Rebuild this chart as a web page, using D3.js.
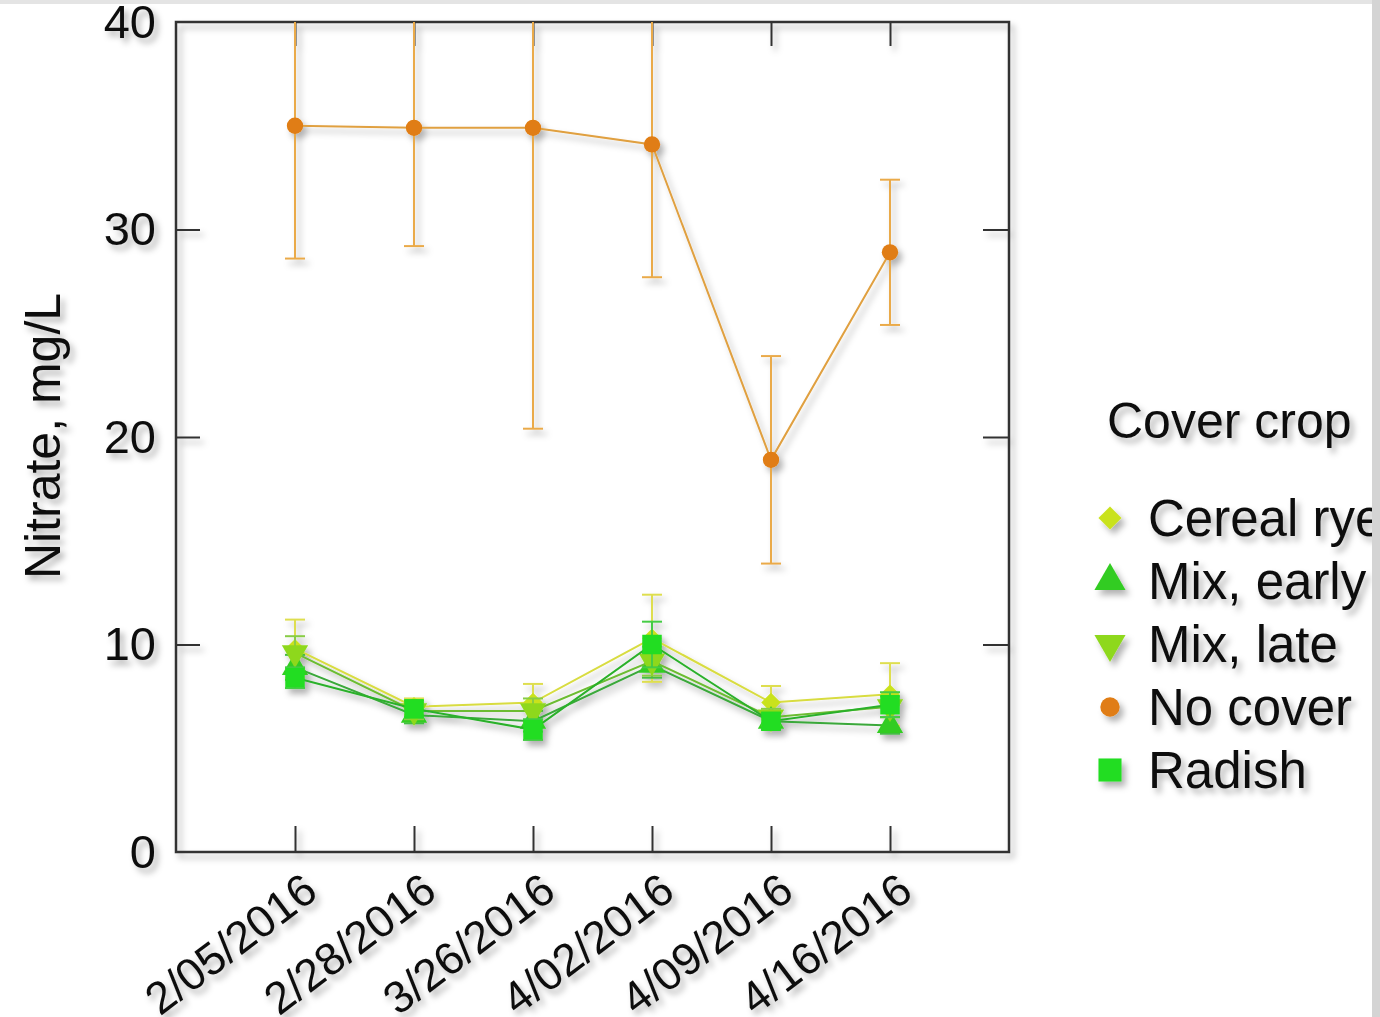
<!DOCTYPE html>
<html>
<head>
<meta charset="utf-8">
<script src="https://cdn.jsdelivr.net/npm/d3@7"></script>
<style>
  body { margin: 0; background: #fff; }
  svg { display: block; font-family: "Liberation Sans", Arial, sans-serif; }
</style>
</head>
<body>
<svg width="1380" height="1017"></svg>
<script>
// sampling dates (x categories)
var dates = ["2/05/2016", "2/28/2016", "3/26/2016", "4/02/2016", "4/09/2016", "4/16/2016"];
var yTicks = [0, 10, 20, 30, 40];

// means and standard errors, mg/L
var cerealRye = [9.8, 7.0, 7.2, 10.3, 7.2, 7.6];
var cerealRyeErr = [1.4, 0.4, 0.9, 2.1, 0.8, 1.5];
var mixEarly = [8.9, 6.6, 6.3, 9.0, 6.3, 6.1];
var mixEarlyErr = [0.6, 0.4, 0.5, 0.6, 0.4, 0.4];
var mixLate = [9.6, 6.8, 6.8, 9.2, 6.5, 7.0];
var mixLateErr = [0.8, 0.4, 0.6, 0.7, 0.4, 0.5];
var noCover = [35.0, 34.9, 34.9, 34.1, 18.9, 28.9];
var noCoverErr = [6.4, 5.7, 14.5, 6.4, 5.0, 3.5];
var radish = [8.4, 6.9, 5.9, 10.0, 6.3, 7.1];
var radishErr = [0.5, 0.4, 0.5, 1.1, 0.4, 0.6];

var seriesNames = ["Cereal rye", "Mix, early", "Mix, late", "No cover", "Radish"];
var seriesColors = ["#c9e21c", "#33cc22", "#8ed81e", "#e07d12", "#22dd22"];
var lineColors = ["#d8dc40", "#3aa83a", "#6cbc32", "#e0a040", "#2cb02c"];
var barColors = ["#dede50", "#44bb44", "#88cc44", "#eaaa4a", "#44cc44"];

var series = seriesNames.map(function(n, i) {
  var vals = [cerealRye, mixEarly, mixLate, noCover, radish][i];
  var errs = [cerealRyeErr, mixEarlyErr, mixLateErr, noCoverErr, radishErr][i];
  return {
    name: n, idx: i,
    points: vals.map(function(v, j) { return { date: dates[j], v: v, e: errs[j] }; })
  };
});

var svg = d3.select("svg");
var pLeft = 176, pRight = 1009, pTop = 22, pBottom = 852;

var x = d3.scalePoint().domain(dates).range([pLeft, pRight]).padding(1);
var y = d3.scaleLinear().domain([0, 40]).range([pBottom, pTop]);

var defs = svg.append("defs");
var f = defs.append("filter").attr("id", "shadow")
  .attr("x", "-20%").attr("y", "-20%").attr("width", "150%").attr("height", "150%");
f.append("feDropShadow").attr("dx", 4).attr("dy", 5).attr("stdDeviation", 3)
  .attr("flood-color", "#000").attr("flood-opacity", 0.3);

defs.append("clipPath").attr("id", "plotclip")
  .append("rect").attr("x", pLeft).attr("y", pTop).attr("width", pRight - pLeft).attr("height", pBottom - pTop);

var g = svg.append("g").attr("filter", "url(#shadow)");

// axes, all ticks pointing inward
var axL = g.append("g").attr("transform", "translate(" + pLeft + ",0)")
  .call(d3.axisLeft(y).tickValues(yTicks).tickSize(-24).tickPadding(20));
var axR = g.append("g").attr("transform", "translate(" + pRight + ",0)")
  .call(d3.axisRight(y).tickValues(yTicks.slice(1, 4)).tickSize(-26).tickFormat(""));
var axT = g.append("g").attr("transform", "translate(0," + pTop + ")")
  .call(d3.axisTop(x).tickSize(-24).tickFormat(""));
var axB = g.append("g").attr("transform", "translate(0," + pBottom + ")")
  .call(d3.axisBottom(x).tickSize(-26).tickFormat(""));

[axL, axR, axT, axB].forEach(function(a) {
  a.select(".domain").remove();
  a.selectAll(".tick line").attr("stroke", "#333").attr("stroke-width", 2);
});
axL.selectAll(".tick text").attr("font-size", 47).attr("fill", "#111")
  .attr("font-family", "Liberation Sans, Arial, sans-serif");
axL.selectAll(".tick").filter(function(d) { return d === 0 || d === 40; }).select("line").remove();

g.append("rect").attr("x", pLeft).attr("y", pTop).attr("width", pRight - pLeft).attr("height", pBottom - pTop)
  .attr("fill", "none").attr("stroke", "#333").attr("stroke-width", 2.5);

// x tick labels rotated
g.append("g").selectAll("text").data(dates).join("text")
  .attr("transform", function(d) { return "translate(" + (x(d) + 25) + "," + (pBottom + 44) + ") rotate(-37)"; })
  .attr("text-anchor", "end")
  .attr("font-size", 45)
  .attr("fill", "#111")
  .text(function(d) { return d; });

// y title
g.append("text")
  .attr("transform", "translate(60,436) rotate(-90)")
  .attr("text-anchor", "middle")
  .attr("font-size", 50)
  .attr("fill", "#111")
  .text("Nitrate, mg/L");

var plot = g.append("g").attr("clip-path", "url(#plotclip)");

// marker shapes: diamond, triangle up, triangle down, circle, square
function symPath(i, k) {
  k = k || 1;
  if (i === 0) return d3.symbol(d3.symbolSquare, 190 * k)();
  if (i === 1 || i === 2) return d3.symbol(d3.symbolTriangle, 300 * k)();
  if (i === 3) return d3.symbol(d3.symbolCircle, 210 * k)();
  return d3.symbol(d3.symbolSquare, 380 * k)();
}
function symRot(i) {
  if (i === 0) return " rotate(45)";
  if (i === 2) return " rotate(180)";
  return "";
}

var line = d3.line().x(function(d) { return x(d.date); }).y(function(d) { return y(d.v); });

var sg = plot.selectAll(".series").data(series).join("g").attr("class", "series");

sg.append("path")
  .attr("d", function(s) { return line(s.points); })
  .attr("fill", "none")
  .attr("stroke", function(s) { return lineColors[s.idx]; })
  .attr("stroke-width", 2);

var eb = sg.selectAll(".eb").data(function(s) {
  return s.points.map(function(p) { return { p: p, i: s.idx }; });
}).join("g").attr("class", "eb");

eb.append("line")
  .attr("x1", function(d) { return x(d.p.date); })
  .attr("x2", function(d) { return x(d.p.date); })
  .attr("y1", function(d) { return y(d.p.v - d.p.e); })
  .attr("y2", function(d) { return y(d.p.v + d.p.e); })
  .attr("stroke", function(d) { return barColors[d.i]; })
  .attr("stroke-width", 2);

[-1, 1].forEach(function(sgn) {
  eb.append("line")
    .attr("x1", function(d) { return x(d.p.date) - 10; })
    .attr("x2", function(d) { return x(d.p.date) + 10; })
    .attr("y1", function(d) { return y(d.p.v + sgn * d.p.e); })
    .attr("y2", function(d) { return y(d.p.v + sgn * d.p.e); })
    .attr("stroke", function(d) { return barColors[d.i]; })
    .attr("stroke-width", 2);
});

eb.append("path")
  .attr("d", function(d) { return symPath(d.i); })
  .attr("transform", function(d) {
    return "translate(" + x(d.p.date) + "," + y(d.p.v) + ")" + symRot(d.i);
  })
  .attr("fill", function(d) { return seriesColors[d.i]; });

// legend
var lg = g.append("g");
lg.append("text").attr("x", 1107).attr("y", 438).attr("font-size", 50).attr("fill", "#111").text("Cover crop");
var items = lg.selectAll(".item").data(seriesNames).join("g").attr("class", "item")
  .attr("transform", function(d, i) { return "translate(1110," + (518 + i * 63) + ")"; });
items.append("path")
  .attr("d", function(d, i) { return symPath(i, 1.4); })
  .attr("transform", function(d, i) { return symRot(i) || null; })
  .attr("fill", function(d, i) { return seriesColors[i]; });
items.append("text").attr("x", 38).attr("y", 18).attr("font-size", 51).attr("fill", "#111")
  .text(function(d) { return d; });

// screenshot frame edges
svg.append("rect").attr("x", 1372).attr("y", 0).attr("width", 8).attr("height", 1017).attr("fill", "#d4d4d4");
svg.append("rect").attr("x", 0).attr("y", 0).attr("width", 1372).attr("height", 4).attr("fill", "#e4e4e4");
</script>
</body>
</html>
